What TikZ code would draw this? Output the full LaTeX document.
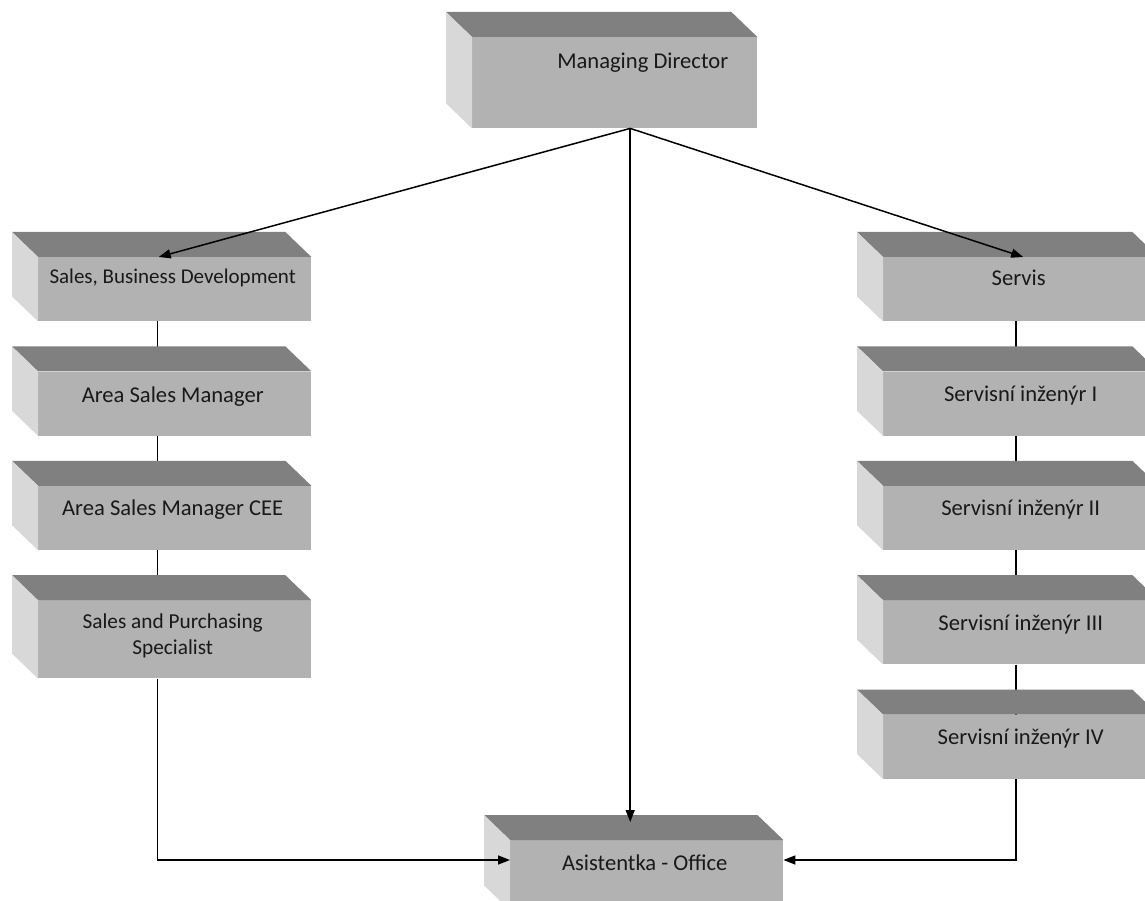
\documentclass[tikz,border=0pt]{standalone}
\usepackage{fontspec}
\setmainfont{Carlito}
\usetikzlibrary{positioning,arrows.meta,backgrounds}

\definecolor{frontgray}{RGB}{178,178,178}
\definecolor{topgray}{RGB}{128,128,128}
\definecolor{sidegray}{RGB}{216,216,216}
\definecolor{inkgray}{RGB}{25,25,25}

\begin{document}
\begin{tikzpicture}[x=1pt, y=1pt,
    box/.style={fill=frontgray, inner sep=0pt, minimum width=273pt, minimum height=64pt},
    txt/.style={text=inkgray, font=\fontsize{22.6}{27}\selectfont, align=center, inner sep=0pt},
    link/.style={line width=1.5pt},
    arr/.style={link, -{Triangle[length=12pt, width=9pt]}}]
    \useasboundingbox (0,0) rectangle (1145,-901);
    \clip (0,0) rectangle (1145,-901);

    \node [box, anchor=north west, minimum width=285pt, minimum height=91pt] (md) at (472,-37) {};
    \node [box, anchor=north west] (sbd) at (38,-257) {};
    \node [box, below=50pt of sbd] (asm) {};
    \node [box, below=50pt of asm] (cee) {};
    \node [box, below=50pt of cee, minimum height=78pt] (sp) {};

    \node [box, anchor=north west, minimum width=275pt] (srv) at (883,-257) {};
    \node [box, below=50pt of srv, minimum width=275pt] (si1) {};
    \node [box, below=50pt of si1, minimum width=275pt] (si2) {};
    \node [box, below=50pt of si2, minimum width=275pt] (si3) {};
    \node [box, below=50pt of si3, minimum width=275pt] (si4) {};

    \node [box, anchor=north west, minimum height=70pt] (asis) at (510,-840) {};

    % top and left faces
    \foreach \n in {md,sbd,asm,cee,sp,srv,si1,si2,si3,si4,asis} {
        \fill[topgray] (\n.north west) -- (\n.north east) -- ++(-26,25) -- ([shift={(-26,25)}]\n.north west) -- cycle;
        \fill[sidegray] (\n.north west) -- ([shift={(-26,25)}]\n.north west) -- ([shift={(-26,25)}]\n.south west) -- (\n.south west) -- cycle;
    }

    \node [txt] (md-t) at ([shift={(28pt,20pt)}]md.center) {Managing Director};
    \node [txt, font=\fontsize{21}{26}\selectfont] (sbd-t) at ([shift={(-2pt,11pt)}]sbd.center) {Sales, Business Development};
    \node [txt] (asm-t) at ([shift={(-2pt,7pt)}]asm.center) {Area Sales Manager};
    \node [txt] (cee-t) at ([shift={(-2pt,8pt)}]cee.center) {Area Sales Manager CEE};
    \node [txt, font=\fontsize{21.3}{26}\selectfont] (sp-t) at ([shift={(-2pt,4pt)}]sp.center) {Sales and Purchasing\\Specialist};
    \node [txt] (srv-t) at ([shift={(-2pt,11pt)}]srv.center) {Servis};
    \node [txt] (si1-t) at ([yshift=8pt]si1.center) {Servisní inženýr I};
    \node [txt] (si2-t) at ([yshift=8pt]si2.center) {Servisní inženýr II};
    \node [txt] (si3-t) at ([yshift=8pt]si3.center) {Servisní inženýr III};
    \node [txt] (si4-t) at ([yshift=8pt]si4.center) {Servisní inženýr IV};
    \node [txt] (asis-t) at ([shift={(-2pt,12pt)}]asis.center) {Asistentka - Office};

    \begin{scope}[on background layer]
        \foreach \a/\b in {sbd/asm, asm/cee, cee/sp}
            \draw[link] ([xshift=-17pt]\a.south) -- ([xshift=-17pt]\b.north);
        \foreach \a/\b in {srv/si1, si1/si2, si2/si3, si3/si4}
            \draw[link] ([xshift=-4.5pt]\a.south) -- ([xshift=-4.5pt]\b.north);
    \end{scope}

    \coordinate (mdout) at ([xshift=15.5pt]md.south);
    \coordinate (asistop) at ([yshift=18pt]asis.north);
    \draw[arr] (mdout) -- ([xshift=-16pt]sbd.north);
    \draw[arr] (mdout) -- ([xshift=2.5pt]srv.north);
    \draw[arr] (mdout) -- (mdout |- asistop);
    \draw[arr] ([xshift=-17pt]sp.south) |- ([yshift=-20pt]asis.north west);
    \draw[arr] ([xshift=-4.5pt]si4.south) |- ([yshift=-20pt]asis.north east);
\end{tikzpicture}
\end{document}
